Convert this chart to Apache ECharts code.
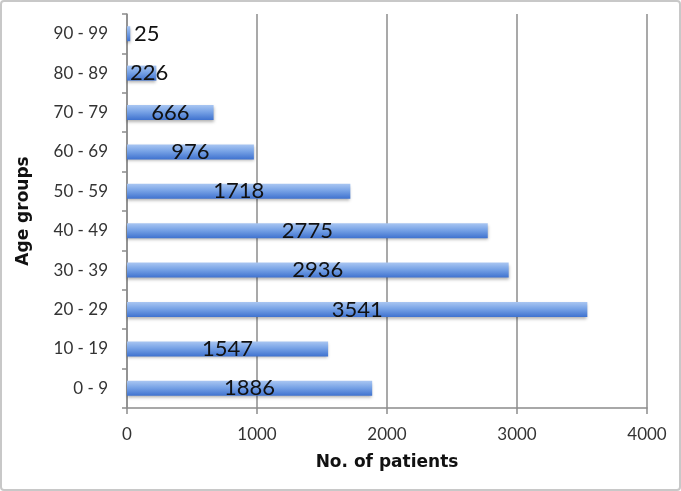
<!DOCTYPE html>
<html>
<head>
<meta charset="utf-8">
<script src="https://cdn.jsdelivr.net/npm/echarts@6/dist/echarts.min.js"></script>
<style>
html,body{margin:0;padding:0;background:#fff;}
#c{width:681px;height:491px;}
</style>
</head>
<body>
<div id="c"></div>
<script>
const categories = ["0 - 9","10 - 19","20 - 29","30 - 39","40 - 49","50 - 59","60 - 69","70 - 79","80 - 89","90 - 99"];
const patients = [1886, 1547, 3541, 2936, 2775, 1718, 976, 666, 226, 25];
const xTicks = [0, 1000, 2000, 3000, 4000];

const chart = echarts.init(document.getElementById('c'), null, {renderer:'canvas'});
const barColor = new echarts.graphic.LinearGradient(0,0,0,1,[
  {offset:0, color:'#a9c6f2'},
  {offset:0.45, color:'#78a3e6'},
  {offset:1, color:'#3f72cf'}
]);
const data = patients.map((v,i)=>{
  const item = {value:v};
  if (v < 300) {
    item.label = {position:'insideLeft', distance: v < 100 ? 7 : 3};
  }
  return item;
});
chart.setOption({
  animation:false,
  graphic:[{
    type:'rect', left:0, top:0, z:-10,
    shape:{x:1,y:1,width:679,height:489,r:3},
    style:{fill:'#fff', stroke:'#c8c8c8', lineWidth:2}
  }],
  grid:{left:127, right:34, top:14, bottom:83, containLabel:false},
  xAxis:{
    type:'value', min:xTicks[0], max:xTicks[xTicks.length-1], interval:1000,
    name:'No. of patients', nameLocation:'middle', nameGap:46,
    nameTextStyle:{fontFamily:'DejaVu Sans', fontWeight:'bold', fontSize:17, color:'#111'},
    axisLine:{show:true, lineStyle:{color:'#8c8c8c', width:1.5}},
    axisTick:{show:true, length:6, lineStyle:{color:'#8c8c8c', width:1.5}},
    axisLabel:{fontFamily:'Lato', fontSize:17, color:'#333', margin:18, formatter:(v)=>String(v)},
    splitLine:{show:true, lineStyle:{color:'#8c8c8c', width:1.5}}
  },
  yAxis:{
    type:'category', data:categories,
    name:'Age groups', nameLocation:'middle', nameGap:95, nameRotate:90,
    nameTextStyle:{fontFamily:'DejaVu Sans', fontWeight:'bold', fontSize:17, color:'#111'},
    axisLine:{show:true, lineStyle:{color:'#8c8c8c', width:1.5}},
    axisTick:{show:true, length:5, lineStyle:{color:'#8c8c8c', width:1.5}},
    axisLabel:{fontFamily:'Lato', fontSize:17, color:'#333', margin:19},
    splitLine:{show:false}
  },
  series:[{
    type:'bar', data:data, barWidth:15,
    itemStyle:{color:barColor, shadowColor:'rgba(0,0,0,0.3)', shadowBlur:3, shadowOffsetY:2},
    label:{show:true, position:'inside', fontFamily:'Lato', fontSize:22, color:'#111'}
  }]
});
</script>
</body>
</html>
